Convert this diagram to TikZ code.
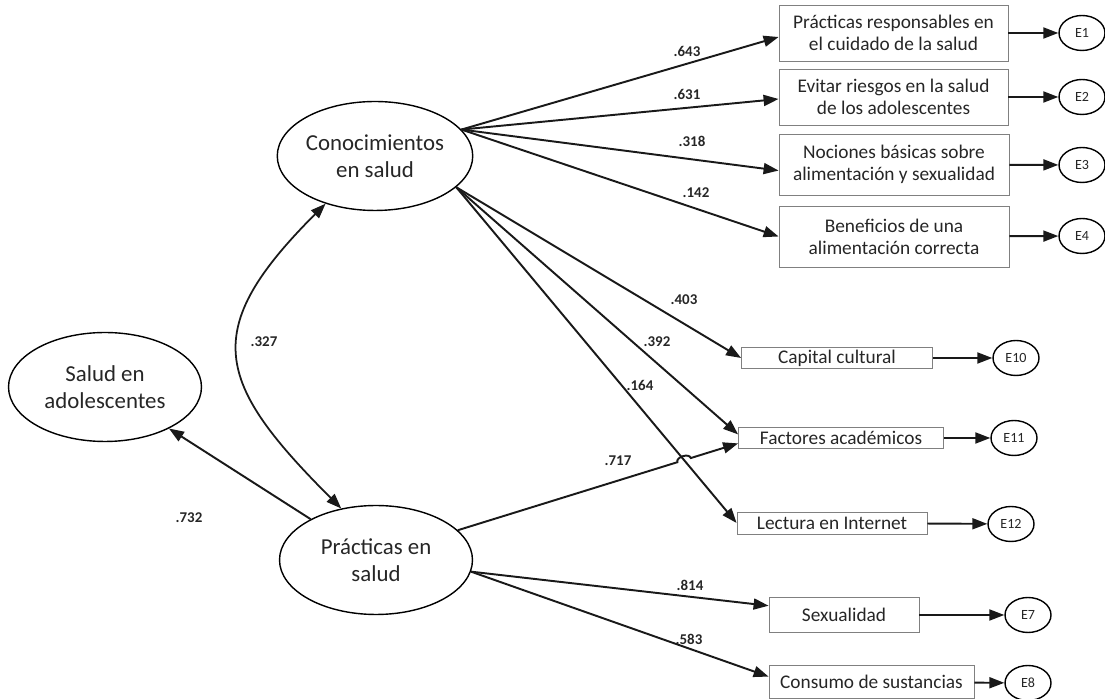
\documentclass[tikz,border=0pt]{standalone}
\usepackage{fontspec}
\setmainfont{Carlito}
\usepackage{tikz}
\usetikzlibrary{positioning, shapes, calc, intersections}
\usetikzlibrary{arrows.meta}

\begin{document}
\begin{tikzpicture}[x=0.02cm, y=0.02cm]
            \tikzset{edge/.style = {-{Triangle[length=3mm,width=2.2mm]}, line width=1.1pt, black!90}}
            \tikzset{bothedge/.style = {{Triangle[length=3mm,width=2.2mm]}-{Triangle[length=3mm,width=2.2mm]}, line width=1pt, black!90}}
            \tikzset{latent/.style = {draw, ellipse, line width=0.8pt, inner sep=0pt, minimum width=3.86cm, minimum height=2.18cm, align=center, text=black!85, font=\fontsize{13}{15.5}\selectfont}}
            \tikzset{obs/.style = {draw=black!50, line width=0.5pt, inner sep=0pt, align=center, text=black!85, font=\fontsize{11}{12.5}\selectfont}}
            \tikzset{err/.style = {draw, ellipse, line width=0.8pt, inner sep=0pt, minimum width=0.92cm, minimum height=0.7cm, text=black!85, font=\fontsize{8}{9}\selectfont}}
            \tikzset{coef/.style = {text=black!85, font=\bfseries\fontsize{8.5}{10}\selectfont}}

            \useasboundingbox (0,0) rectangle (1105,699);

            % latent variables
            \node[latent] (con) at (375,543) {Conocimientos\\en salud};
            \node[latent] (pra) at (376,139) {Prácticas en\\salud};
            \node[latent] (sal) at (105,312) {Salud en\\adolescentes};

            % indicators of conocimientos
            \node[obs, minimum width=4.58cm, minimum height=1.12cm] (b1) at (893.5,666) {Prácticas responsables en\\el cuidado de la salud};
            \node[obs, minimum width=4.58cm, minimum height=1.12cm] (b2) at (893.5,602) {Evitar riesgos en la salud\\de los adolescentes};
            \node[obs, minimum width=4.6cm, minimum height=1.22cm] (b3) at (894,534.5) {Nociones básicas sobre\\alimentación y sexualidad};
            \node[obs, minimum width=4.6cm, minimum height=1.22cm] (b4) at (894,462.5) {Beneficios de una\\alimentación correcta};
            \node[obs, minimum width=3.82cm, minimum height=0.42cm] (m1) at (837,341) {Capital cultural};
            \node[obs, minimum width=4.1cm, minimum height=0.42cm] (m2) at (841,261) {Factores académicos};
            \node[obs, minimum width=3.8cm, minimum height=0.44cm] (m3) at (832,176) {Lectura en Internet};

            % indicators of practicas
            \node[obs, minimum width=3cm, minimum height=0.7cm] (s1) at (844,84) {Sexualidad};
            \node[obs, minimum width=4.1cm, minimum height=0.66cm] (s2) at (871.5,17) {Consumo de sustancias};

            % errors
            \node[err] (e1) at (1082,666) {E1};
            \node[err] (e2) at (1082,602) {E2};
            \node[err] (e3) at (1082,534) {E3};
            \node[err] (e4) at (1082,463) {E4};
            \node[err] (e10) at (1016,341) {E10};
            \node[err] (e11) at (1014,261) {E11};
            \node[err] (e12) at (1011,175) {E12};
            \node[err] (e7) at (1028,84) {E7};
            \node[err] (e8) at (1028,16) {E8};

            % paths from conocimientos
            \draw[edge] (con.17) -- (b1.182);
            \draw[edge] (con.17) -- (b2.181);
            \draw[edge] (con.17) -- (b3.183);
            \draw[edge] (con.17) -- (b4.west);
            \draw[edge] (con.-21) -- (m1.west);
            \draw[edge] (con.-21) -- (m2.178);
            \draw[edge, name path=l164] (con.-21) -- (m3.west);

            % paths from practicas
            \path[name path=l717] (pra.20) -- (m2.183);
            \path[name intersections={of=l164 and l717, by=hop}];
            \draw[edge] (pra.20) -- ($(hop)!4pt!(pra.20)$)
                to [bend left=90] ($(hop)!4pt!(m2.183)$) -- (m2.183);
            \draw[edge] (pra.-7) -- (s1.173);
            \draw[edge] (pra.-7) -- (s2.177);
            \draw[edge] (pra.148) -- (sal.-33);
            \draw[bothedge] (con.-136) to [out=225,in=135,looseness=1.5] (pra.124);

            % errors arrows
            \draw[edge] (b1) -- (e1);
            \draw[edge] (b2) -- (e2);
            \draw[edge] (b3) -- (e3);
            \draw[edge] (b4) -- (e4);
            \draw[edge] (m1) -- (e10);
            \draw[edge] (m2) -- (e11);
            \draw[edge] (m3) -- (e12);
            \draw[edge] (s1) -- (e7);
            \draw[edge] (s2) -- (e8);

            % coefficients
            \node[coef] (k1) at (687,648) {.643};
            \node[coef] (k2) at (687,605) {.631};
            \node[coef] (k3) at (692,558) {.318};
            \node[coef] (k4) at (696,506) {.142};
            \node[coef] (k5) at (684,399) {.403};
            \node[coef] (k6) at (657,357) {.392};
            \node[coef] (k7) at (640,314) {.164};
            \node[coef] (k8) at (618,238) {.717};
            \node[coef] (k9) at (264,357) {.327};
            \node[coef] (k10) at (189,181) {.732};
            \node[coef] (k11) at (690,114) {.814};
            \node[coef] (k12) at (689,60) {.583};
\end{tikzpicture}
\end{document}
